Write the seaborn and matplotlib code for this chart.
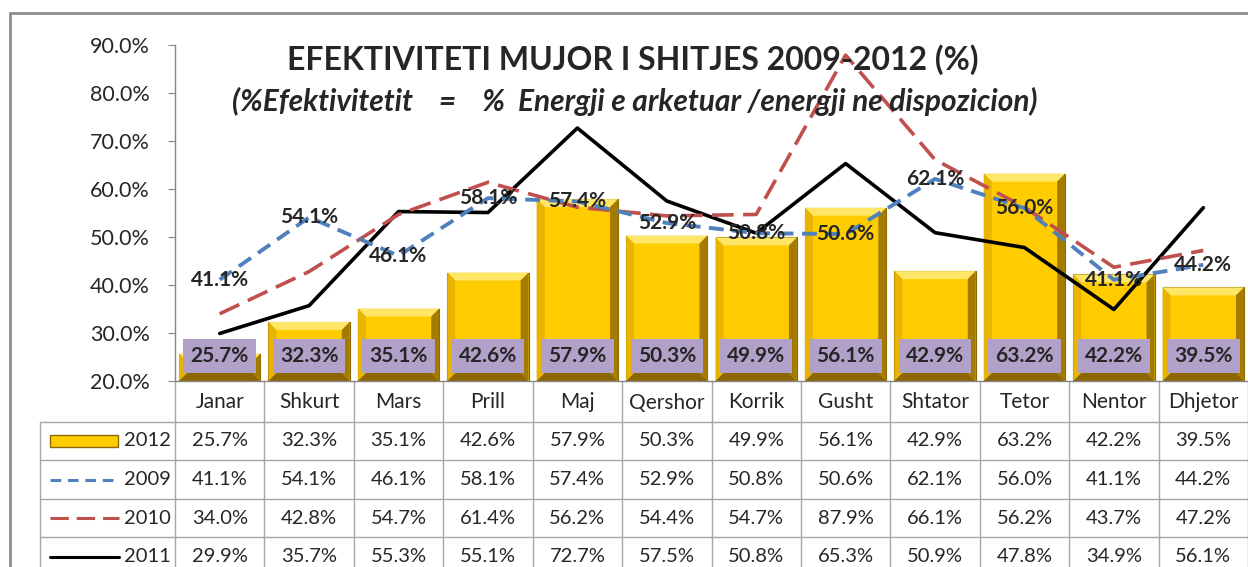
import numpy as np
import pandas as pd
import matplotlib
matplotlib.use("Agg")
import matplotlib.pyplot as plt
from matplotlib.patches import Polygon, Rectangle
import seaborn as sns

# data
months = ["Janar", "Shkurt", "Mars", "Prill", "Maj", "Qershor", "Korrik",
          "Gusht", "Shtator", "Tetor", "Nentor", "Dhjetor"]
v2012 = [25.7, 32.3, 35.1, 42.6, 57.9, 50.3, 49.9, 56.1, 42.9, 63.2, 42.2, 39.5]
v2009 = [41.1, 54.1, 46.1, 58.1, 57.4, 52.9, 50.8, 50.6, 62.1, 56.0, 41.1, 44.2]
v2010 = [34.0, 42.8, 54.7, 61.4, 56.2, 54.4, 54.7, 87.9, 66.1, 56.2, 43.7, 47.2]
v2011 = [29.9, 35.7, 55.3, 55.1, 72.7, 57.5, 50.8, 65.3, 50.9, 47.8, 34.9, 56.1]
yticks = [20, 30, 40, 50, 60, 70, 80, 90]

sns.set_style("white")
plt.rcParams['font.family'] = ['Lato', 'DejaVu Sans']

W, H = 1248, 567
fig = plt.figure(figsize=(W / 100, H / 100), dpi=100)

# background axes in pixel coords for frame + data table
bg = fig.add_axes([0, 0, 1, 1])
bg.set_xlim(0, W)
bg.set_ylim(H, 0)
bg.axis("off")

# chart area
x_left, x_right, y_top, y_bot = 175, 1248, 45, 381
ax = fig.add_axes([x_left / W, 1 - y_bot / H, (x_right - x_left) / W, (y_bot - y_top) / H])

df = pd.DataFrame({"month": months, "v2012": v2012})
sns.barplot(data=df, x="month", y="v2012", ax=ax, color="#FFCC00",
            saturation=1, width=0.91, edgecolor="#8A6A00", linewidth=0.8)
ymin = yticks[0]
colw = (x_right - x_left) / len(months)
ppu = (y_bot - y_top) / (yticks[-1] - yticks[0])
bx, by = 8 / colw, 8 / ppu
for p in ax.patches:
    p.set_y(ymin)
    p.set_height(p.get_height() - ymin)
    x0, y0 = p.get_x(), p.get_y()
    x1, y1 = x0 + p.get_width(), y0 + p.get_height()
    bevels = [
        ([(x0, y1), (x1, y1), (x1 - bx, y1 - by), (x0 + bx, y1 - by)], "#FFE666"),
        ([(x0, y0), (x0, y1), (x0 + bx, y1 - by), (x0 + bx, y0 + by)], "#E8B400"),
        ([(x1, y0), (x1, y1), (x1 - bx, y1 - by), (x1 - bx, y0 + by)], "#A47A00"),
        ([(x0, y0), (x1, y0), (x1 - bx, y0 + by), (x0 + bx, y0 + by)], "#8C6600"),
    ]
    for pts, c in bevels:
        ax.add_patch(Polygon(pts, closed=True, facecolor=c, edgecolor="none", zorder=2.1))

xs = np.arange(len(months))
sns.lineplot(x=xs, y=v2011, ax=ax, color="black", lw=2.6, zorder=3)
sns.lineplot(x=xs, y=v2010, ax=ax, color="#C0504D", lw=2.6, zorder=3,
             linestyle=(0, (6, 2.6)))
sns.lineplot(x=xs, y=v2009, ax=ax, color="#4F81BD", lw=2.8, zorder=3,
             linestyle=(0, (3.8, 2.2)))

for i, v in enumerate(v2009):
    ax.text(i, v, f"{v:.1f}%", ha="center", va="center", fontsize=15,
            fontweight="bold", zorder=5)
for i, v in enumerate(v2012):
    ax.text(i, 25.2, f"{v:.1f}%", ha="center", va="center", fontsize=15,
            fontweight="bold", zorder=5,
            bbox=dict(boxstyle="square,pad=0.34", facecolor="#B1A0C7", edgecolor="none"))

ax.set_xlim(-0.5, len(months) - 0.5)
ax.set_ylim(yticks[0], yticks[-1])
ax.set_yticks(yticks)
ax.set_yticklabels([f"{t:.1f}%" for t in yticks], fontsize=15.5)
ax.set_xticks([])
ax.set_xlabel("")
ax.set_ylabel("")
ax.tick_params(axis="y", length=5, color="#868686", pad=13, left=True)
for s in ["top", "right"]:
    ax.spines[s].set_visible(False)
for s in ["left", "bottom"]:
    ax.spines[s].set_color("#868686")
    ax.spines[s].set_linewidth(1)
ax.patch.set_alpha(0)

# titles
fig.text(633 / W, 1 - 60 / H, "EFEKTIVITETI MUJOR I SHITJES 2009-2012 (%)",
         ha="center", va="center", fontsize=23, fontweight="bold")
fig.text(635 / W, 1 - 101 / H,
         "(%Efektivitetit    =    %  Energji e arketuar /energji ne dispozicion)",
         ha="center", va="center", fontsize=21.5, fontweight="bold", style="italic")

# frame
gc = "#8C8C8C"
bg.plot([10, W], [13, 13], color=gc, lw=2)
bg.plot([10, 10], [13, H], color=gc, lw=2)

# data table
tc = "#A6A6A6"
rows_y = [422, 460, 499, 537, 576]
for i in range(len(months) + 1):
    xv = x_left + i * colw
    bg.plot([xv, xv], [y_bot, H], color=tc, lw=1)
for yv in rows_y[:-1]:
    bg.plot([40, W], [yv, yv], color=tc, lw=1)
bg.plot([40, 40], [rows_y[0], H], color=tc, lw=1)

for i, m in enumerate(months):
    bg.text(x_left + (i + 0.5) * colw, (y_bot + rows_y[0]) / 2 + 1, m,
            ha="center", va="center", fontsize=15)

series = [("2012", v2012), ("2009", v2009), ("2010", v2010), ("2011", v2011)]
styles = {"2009": ("#4F81BD", (0, (3.5, 2.2))), "2010": ("#C0504D", (0, (6, 2.6))),
          "2011": ("black", "-")}
for r, (name, vals) in enumerate(series):
    yc = (rows_y[r] + rows_y[r + 1]) / 2
    for i, v in enumerate(vals):
        bg.text(x_left + (i + 0.5) * colw, yc, f"{v:.1f}%", ha="center", va="center",
                fontsize=14.5)
    bg.text(171, yc, name, ha="right", va="center", fontsize=14.5)
    if name == "2012":
        bg.add_patch(Rectangle((50, yc - 6), 68, 12, facecolor="#FFCC00",
                               edgecolor="#8A6A00", lw=1))
    else:
        c, ls = styles[name]
        bg.plot([50, 119], [yc, yc], color=c, lw=2.2, linestyle=ls)

fig.savefig("out.png", dpi=100)
